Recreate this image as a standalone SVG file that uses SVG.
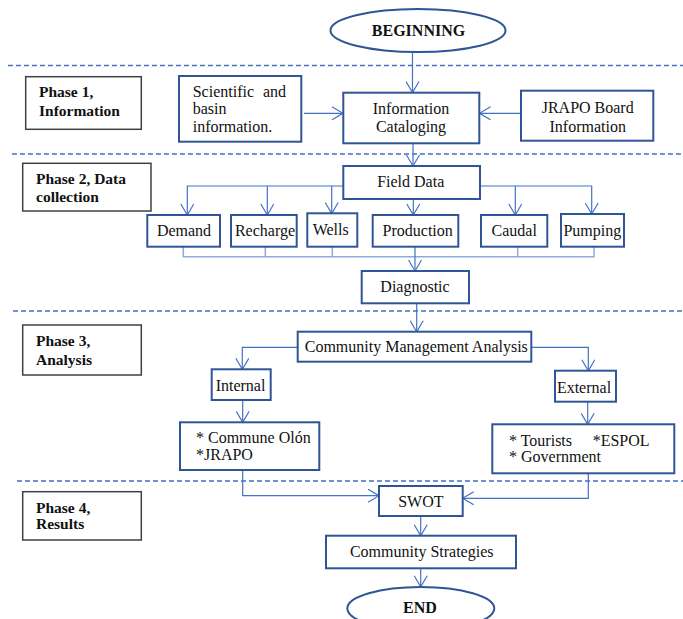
<svg xmlns="http://www.w3.org/2000/svg" width="683" height="619" viewBox="0 0 683 619" font-family="'Liberation Serif', 'DejaVu Serif', serif">
<style>
.box{fill:#fff;stroke:#2f5597;stroke-width:2}
.ph{fill:#fff;stroke:#404040;stroke-width:1.5}
text{font-family:'Liberation Serif','DejaVu Serif',serif}
.t{font-size:16px;fill:#111}
.m{text-anchor:middle}
.b{font-weight:bold}
.pt{font-size:15.5px;font-weight:bold;fill:#111}
.c{fill:none;stroke:#4472c4;stroke-width:1.2}
.cl{fill:none;stroke:#8faadc;stroke-width:1.5}
.d{fill:none;stroke:#4472c4;stroke-width:1.5;stroke-dasharray:5 3}
</style>
<defs>
<marker id="a" markerWidth="13" markerHeight="14" refX="12" refY="7" orient="auto" markerUnits="userSpaceOnUse"><path d="M1,0.5 L12,7 L1,13.5" fill="none" stroke="#4472c4" stroke-width="1.2"/></marker>
</defs>
<g id="separators">
<line class="d" x1="8" y1="65.5" x2="683" y2="65.5"/>
<line class="d" x1="12" y1="154" x2="683" y2="154"/>
<line class="d" x1="13" y1="311" x2="683" y2="311"/>
<line class="d" x1="17" y1="481" x2="683" y2="481"/>
</g>
<g id="connectors">
<line class="c" x1="412.5" y1="52" x2="412.5" y2="92.5" marker-end="url(#a)"/>
<line class="c" x1="304" y1="113.3" x2="343" y2="113.3" marker-end="url(#a)"/>
<line class="c" x1="521" y1="113.3" x2="479.5" y2="113.3" marker-end="url(#a)"/>
<line class="c" x1="413" y1="143.5" x2="413" y2="166" marker-end="url(#a)"/>
<polyline class="c" points="343.3,186 187.3,186 187.3,215" marker-end="url(#a)"/>
<line class="c" x1="267.3" y1="186" x2="267.3" y2="215" marker-end="url(#a)"/>
<line class="c" x1="331.7" y1="186" x2="331.7" y2="213.5" marker-end="url(#a)"/>
<line class="c" x1="413.3" y1="199" x2="413.3" y2="215" marker-end="url(#a)"/>
<polyline class="c" points="480,186 591.7,186 591.7,214" marker-end="url(#a)"/>
<line class="c" x1="515.3" y1="186" x2="515.3" y2="215" marker-end="url(#a)"/>
<polyline class="cl" points="183.3,246.7 183.3,256.7 594,256.7 594,246.7"/>
<line class="cl" x1="265.3" y1="246.7" x2="265.3" y2="256.7"/>
<line class="cl" x1="332.3" y1="246.7" x2="332.3" y2="256.7"/>
<line class="cl" x1="517.7" y1="246.7" x2="517.7" y2="256.7"/>
<line class="c" x1="415" y1="246.7" x2="415" y2="271" marker-end="url(#a)"/>
<line class="c" x1="416.7" y1="303.3" x2="416.7" y2="331.7" marker-end="url(#a)"/>
<polyline class="c" points="297.7,347.3 242.3,347.3 242.3,369.3" marker-end="url(#a)"/>
<polyline class="c" points="531.3,347.3 588.3,347.3 588.3,370.7" marker-end="url(#a)"/>
<line class="c" x1="242.7" y1="400" x2="242.7" y2="422.3" marker-end="url(#a)"/>
<line class="c" x1="587.7" y1="401.7" x2="587.7" y2="424.3" marker-end="url(#a)"/>
<polyline class="c" points="242.7,470 242.7,495.7 379,495.7" marker-end="url(#a)"/>
<polyline class="c" points="588.3,473.3 588.3,498.3 462.7,498.3" marker-end="url(#a)"/>
<line class="c" x1="420.7" y1="516" x2="420.7" y2="535.7" marker-end="url(#a)"/>
<line class="c" x1="420.7" y1="568.3" x2="420.7" y2="586.7" marker-end="url(#a)"/>
</g>
<g id="phase1"><rect class="ph" x="25.7" y="76.7" width="115.6" height="52.6"/><text class="pt" x="39" y="97">Phase 1,</text><text class="pt" x="39" y="116">Information</text></g>
<g id="phase2"><rect class="ph" x="22.7" y="163.3" width="128.3" height="47.7"/><text class="pt" x="36" y="184">Phase 2, Data</text><text class="pt" x="36" y="202.3">collection</text></g>
<g id="phase3"><rect class="ph" x="22.7" y="325" width="118.6" height="50"/><text class="pt" x="36" y="346">Phase 3,</text><text class="pt" x="36" y="364.7">Analysis</text></g>
<g id="phase4"><rect class="ph" x="22.7" y="491.7" width="118.6" height="48.3"/><text class="pt" x="36" y="512.7">Phase 4,</text><text class="pt" x="36" y="529.3">Results</text></g>
<g id="beginning"><ellipse cx="418" cy="30.5" rx="87.5" ry="21.5" fill="#fff" stroke="#2f5597" stroke-width="2"/><text class="t m b" x="418.5" y="36">BEGINNING</text></g>
<g id="scientific"><rect class="box" x="179" y="76" width="122.3" height="65.7"/><text class="t" x="192.7" y="97.3">Scientific</text><text class="t" x="286" y="97.3" text-anchor="end">and</text><text class="t" x="192.7" y="114.3">basin</text><text class="t" x="192.7" y="131.7">information.</text></g>
<g id="cataloging"><rect class="box" x="343.3" y="92.7" width="136" height="50.6"/><text class="t m" x="411" y="114.3">Information</text><text class="t m" x="411" y="131.7">Cataloging</text></g>
<g id="jrapo-board"><rect class="box" x="521" y="90.7" width="132.3" height="50"/><text class="t m" x="587.7" y="113.3">JRAPO Board</text><text class="t m" x="587.7" y="131.7">Information</text></g>
<g id="field-data"><rect class="box" x="343.3" y="166" width="136.7" height="33"/><text class="t m" x="410.7" y="187.3">Field Data</text></g>
<g id="demand"><rect class="box" x="147.3" y="215" width="72.7" height="31.7"/><text class="t m" x="184" y="236">Demand</text></g>
<g id="recharge"><rect class="box" x="231" y="215" width="65.7" height="31.7"/><text class="t m" x="265" y="236">Recharge</text></g>
<g id="wells"><rect class="box" x="307.3" y="213.3" width="50" height="33.4"/><text class="t m" x="330.7" y="235">Wells</text></g>
<g id="production"><rect class="box" x="372.7" y="215" width="85.6" height="31.7"/><text class="t m" x="417.7" y="236">Production</text></g>
<g id="caudal"><rect class="box" x="481" y="215" width="66.3" height="31.7"/><text class="t m" x="514.2" y="236">Caudal</text></g>
<g id="pumping"><rect class="box" x="561" y="214" width="63" height="32.7"/><text class="t m" x="592.3" y="236">Pumping</text></g>
<g id="diagnostic"><rect class="box" x="361.7" y="271" width="107.3" height="32.3"/><text class="t m" x="415" y="291.7">Diagnostic</text></g>
<g id="cma"><rect class="box" x="297.7" y="331.7" width="233.6" height="30"/><text class="t m" x="416.3" y="352.3">Community Management Analysis</text></g>
<g id="internal"><rect class="box" x="211.7" y="369.3" width="59" height="30.7"/><text class="t m" x="240.5" y="390.7">Internal</text></g>
<g id="external"><rect class="box" x="555" y="370.7" width="61" height="31"/><text class="t m" x="584" y="392.7">External</text></g>
<g id="internal-actors"><rect class="box" x="180" y="422.3" width="139.3" height="47.7"/><text class="t" x="196" y="443.3">* Commune Olón</text><text class="t" x="196" y="460">*JRAPO</text></g>
<g id="external-actors"><rect class="box" x="492.3" y="424.3" width="182" height="49"/><text class="t" x="509" y="445.7">* Tourists</text><text class="t" x="592.7" y="445.7">*ESPOL</text><text class="t" x="509" y="462.3">* Government</text></g>
<g id="swot"><rect class="box" x="379" y="486" width="83.7" height="30"/><text class="t m" x="420.8" y="507.3">SWOT</text></g>
<g id="strategies"><rect class="box" x="326" y="535.7" width="190" height="32.6"/><text class="t m" x="421.7" y="557.3">Community Strategies</text></g>
<g id="end"><ellipse cx="420.8" cy="608.5" rx="73.5" ry="21.5" fill="#fff" stroke="#2f5597" stroke-width="2"/><text class="t m b" x="420" y="613.3">END</text></g>
</svg>
